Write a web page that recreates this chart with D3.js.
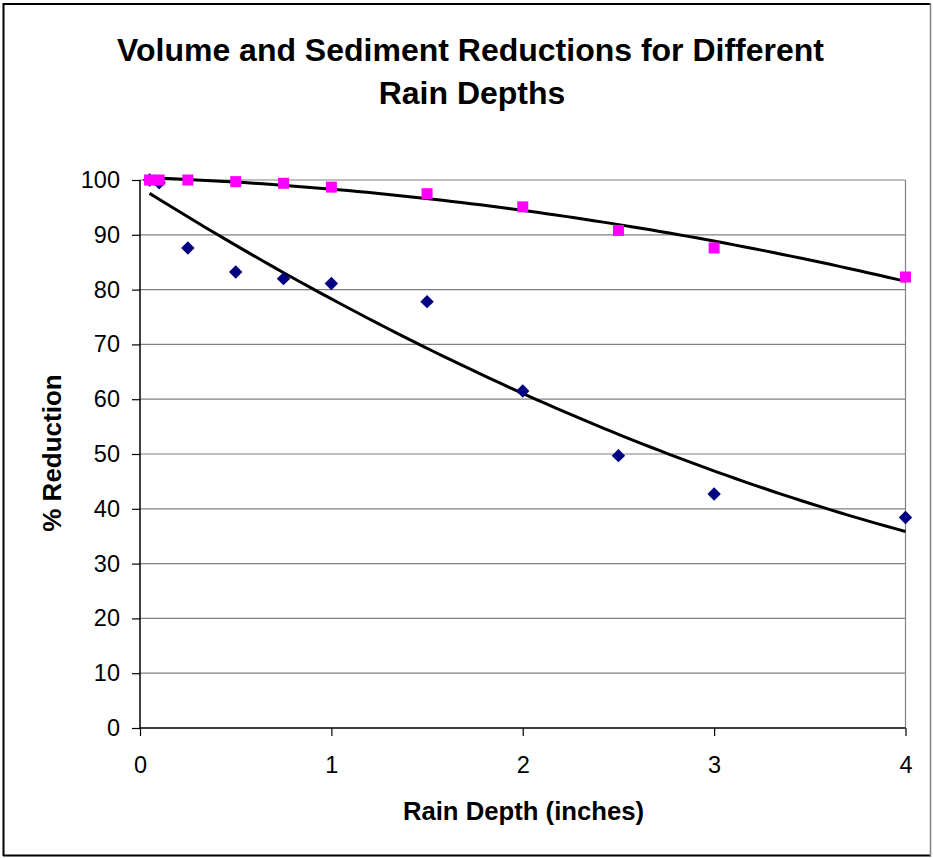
<!DOCTYPE html>
<html><head><meta charset="utf-8">
<script src="https://cdn.jsdelivr.net/npm/d3@7"></script>
<style>html,body{margin:0;padding:0;background:#fff;}svg{display:block;}</style>
</head><body>
<svg id="chart" width="933" height="858"></svg>
<script>
const rainDepth = [0.05, 0.1, 0.25, 0.5, 0.75, 1, 1.5, 2, 2.5, 3, 4];
const volumeReduction = [100, 100, 100, 99.7, 99.4, 98.7, 97.5, 95.1, 90.8, 87.6, 82.3];
const sedimentReduction = [100, 99.5, 87.6, 83.2, 82.0, 81.1, 77.8, 61.5, 49.7, 42.7, 38.4];
const xTicks = [0, 1, 2, 3, 4];
const yTicks = [0, 10, 20, 30, 40, 50, 60, 70, 80, 90, 100];
const titleLines = ["Volume and Sediment Reductions for Different", "Rain Depths"];
const xTitle = "Rain Depth (inches)";
const yTitle = "% Reduction";

(function () {
const svg = d3.select("#chart");
const pL = 140, pR = 905.5, pT = 180, pB = 728;
const x = d3.scaleLinear().domain([0, 4]).range([pL, pR]);
const y = d3.scaleLinear().domain([0, 100]).range([pB, pT]);
const font = "Liberation Sans, Arial, sans-serif";

// outer frame
svg.append("rect").attr("x", 0).attr("y", 0).attr("width", 933).attr("height", 858).attr("fill", "#fff");
svg.append("line").attr("x1", 3).attr("x2", 931).attr("y1", 4).attr("y2", 4).attr("stroke", "#000").attr("stroke-width", 2);
svg.append("line").attr("x1", 3.5).attr("x2", 3.5).attr("y1", 3).attr("y2", 856).attr("stroke", "#000").attr("stroke-width", 2);
svg.append("line").attr("x1", 3).attr("x2", 931).attr("y1", 855.5).attr("y2", 855.5).attr("stroke", "#000").attr("stroke-width", 2);
svg.append("line").attr("x1", 930.5).attr("x2", 930.5).attr("y1", 3).attr("y2", 856).attr("stroke", "#808080").attr("stroke-width", 1.5);

// gridlines
svg.append("g").selectAll("line").data(yTicks.filter(d => d > 0)).join("line")
  .attr("x1", pL).attr("x2", pR).attr("y1", d => y(d)).attr("y2", d => y(d))
  .attr("stroke", "#808080").attr("stroke-width", 1.2);
svg.append("line").attr("x1", pR).attr("x2", pR).attr("y1", pT).attr("y2", pB)
  .attr("stroke", "#808080").attr("stroke-width", 1.2);

// axes
const xAxis = svg.append("g").attr("transform", `translate(0,${pB})`)
  .call(d3.axisBottom(x).tickValues(xTicks).tickSize(8).tickPadding(20).tickFormat(d3.format("d")));
const yAxis = svg.append("g").attr("transform", `translate(${pL},0)`)
  .call(d3.axisLeft(y).tickValues(yTicks).tickSize(8).tickPadding(12).tickFormat(d3.format("d")));
[xAxis, yAxis].forEach(g => {
  g.select(".domain").attr("stroke", "#000").attr("stroke-width", 1.5);
  g.selectAll(".tick line").attr("stroke", "#000").attr("stroke-width", 1.2);
  g.selectAll("text").attr("font-family", font).attr("font-size", 23.5).attr("fill", "#000");
});
xAxis.select(".domain").attr("d", `M${pL},0H${pR}`);
yAxis.select(".domain").attr("d", `M0,${pB}V${pT}`);

// quadratic least squares trendline
function quadFit(xs, ys) {
  const S = [0,0,0,0,0], T = [0,0,0];
  xs.forEach((xv, i) => {
    for (let k = 0; k < 5; k++) S[k] += Math.pow(xv, k);
    for (let k = 0; k < 3; k++) T[k] += ys[i] * Math.pow(xv, k);
  });
  const A = [[S[0],S[1],S[2],T[0]],[S[1],S[2],S[3],T[1]],[S[2],S[3],S[4],T[2]]];
  for (let i = 0; i < 3; i++) {
    for (let j = i + 1; j < 3; j++) {
      const f = A[j][i] / A[i][i];
      for (let k = i; k < 4; k++) A[j][k] -= f * A[i][k];
    }
  }
  const c = [0,0,0];
  for (let i = 2; i >= 0; i--) {
    let s = A[i][3];
    for (let k = i + 1; k < 3; k++) s -= A[i][k] * c[k];
    c[i] = s / A[i][i];
  }
  return xv => c[0] + c[1]*xv + c[2]*xv*xv;
}
const line = d3.line().x(d => x(d[0])).y(d => y(d[1]));
[volumeReduction, sedimentReduction].forEach(vals => {
  const f = quadFit(rainDepth, vals);
  const x0 = rainDepth[0], x1 = rainDepth[rainDepth.length - 1];
  const xs = d3.range(0, 81).map(i => x0 + (x1 - x0) * i / 80);
  svg.append("path").datum(xs.map(v => [v, f(v)])).attr("d", line)
    .attr("fill", "none").attr("stroke", "#000").attr("stroke-width", 3);
});

// markers
svg.append("g").selectAll("path").data(rainDepth.map((d, i) => [d, sedimentReduction[i]])).join("path")
  .attr("d", d3.symbol(d3.symbolSquare, 90))
  .attr("transform", d => `translate(${x(d[0])},${y(d[1])}) rotate(45)`)
  .attr("fill", "#000080");
svg.append("g").selectAll("rect").data(rainDepth.map((d, i) => [d, volumeReduction[i]])).join("rect")
  .attr("x", d => x(d[0]) - 5.5).attr("y", d => y(d[1]) - 5.5).attr("width", 11).attr("height", 11)
  .attr("fill", "#FF00FF");

// titles
svg.append("text").attr("x", 470.5).attr("y", 61).attr("text-anchor", "middle")
  .attr("font-family", font).attr("font-weight", "bold").attr("font-size", 32).text(titleLines[0]);
svg.append("text").attr("x", 472).attr("y", 104).attr("text-anchor", "middle")
  .attr("font-family", font).attr("font-weight", "bold").attr("font-size", 32).text(titleLines[1]);
svg.append("text").attr("x", 523.5).attr("y", 820).attr("text-anchor", "middle")
  .attr("font-family", font).attr("font-weight", "bold").attr("font-size", 25.7).text(xTitle);
svg.append("text").attr("transform", "translate(61,453) rotate(-90)").attr("text-anchor", "middle")
  .attr("font-family", font).attr("font-weight", "bold").attr("font-size", 26).text(yTitle);
})();
</script>
</body></html>
